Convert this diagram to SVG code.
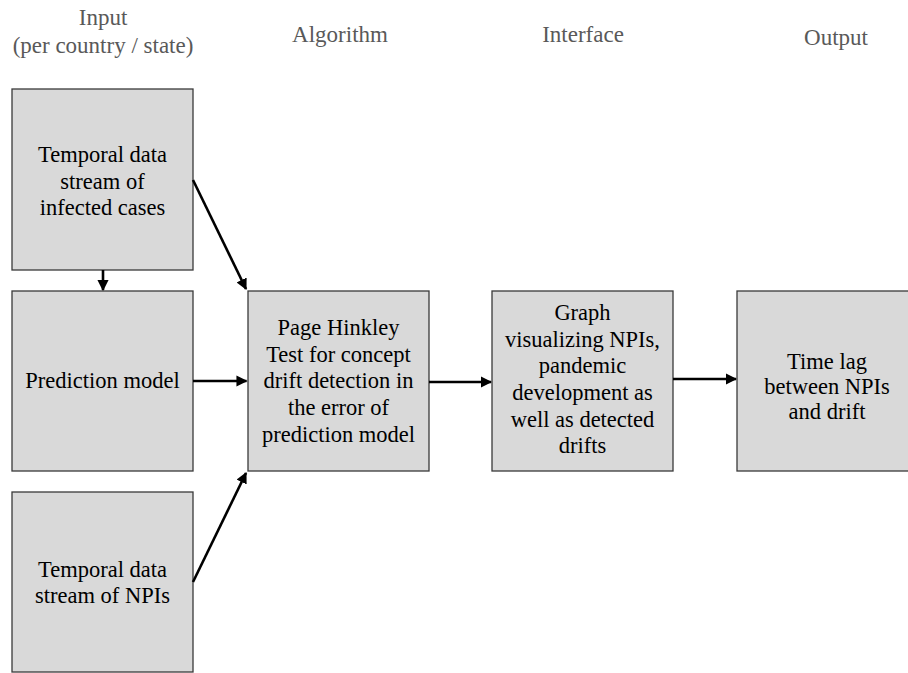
<svg xmlns="http://www.w3.org/2000/svg" width="908" height="673" viewBox="0 0 908 673">
<style>
.hdr{font-size:23px;fill:#595959;text-anchor:middle}
.box{fill:#d9d9d9;stroke:#3a3a3a;stroke-width:1.3}
.lbl{font-size:22.5px;fill:#000;text-anchor:middle}
.con{stroke:#000;stroke-width:2.6;fill:none;marker-end:url(#ah)}
</style>
<defs>
<marker id="ah" viewBox="0 0 10 10" refX="9" refY="5" markerWidth="4.3" markerHeight="4.3" orient="auto" markerUnits="strokeWidth">
<path d="M0,0 L10,5 L0,10 z" fill="#000"/>
</marker>
</defs>
<g id="headers" font-family="'Liberation Serif', 'Times New Roman', serif">
<text class="hdr" x="103" y="25">Input</text>
<text class="hdr" x="103" y="53">(per country / state)</text>
<text class="hdr" x="340" y="42">Algorithm</text>
<text class="hdr" x="583" y="42">Interface</text>
<text class="hdr" x="836" y="45">Output</text>
</g>
<g id="nodes" font-family="'Liberation Serif', 'Times New Roman', serif">
<g id="infected">
<rect class="box" x="12" y="89" width="181" height="181"/>
<text class="lbl" x="102.5" y="162">Temporal data</text>
<text class="lbl" x="102.5" y="188.5">stream of</text>
<text class="lbl" x="102.5" y="215">infected cases</text>
</g>
<g id="prediction">
<rect class="box" x="12" y="291" width="181" height="180"/>
<text class="lbl" x="102.5" y="388">Prediction model</text>
</g>
<g id="npis">
<rect class="box" x="12" y="492" width="181" height="180"/>
<text class="lbl" x="102.5" y="577">Temporal data</text>
<text class="lbl" x="102.5" y="603">stream of NPIs</text>
</g>
<g id="pagehinkley">
<rect class="box" x="248" y="291" width="181" height="180"/>
<text class="lbl" x="338.5" y="335">Page Hinkley</text>
<text class="lbl" x="338.5" y="362">Test for concept</text>
<text class="lbl" x="338.5" y="388">drift detection in</text>
<text class="lbl" x="338.5" y="415">the error of</text>
<text class="lbl" x="338.5" y="442">prediction model</text>
</g>
<g id="graph">
<rect class="box" x="492" y="291" width="181" height="180"/>
<text class="lbl" x="582.5" y="320">Graph</text>
<text class="lbl" x="582.5" y="347">visualizing NPIs,</text>
<text class="lbl" x="582.5" y="373">pandemic</text>
<text class="lbl" x="582.5" y="400">development as</text>
<text class="lbl" x="582.5" y="427">well as detected</text>
<text class="lbl" x="582.5" y="453">drifts</text>
</g>
<g id="output">
<rect class="box" x="737" y="291" width="181" height="180"/>
<text class="lbl" x="827" y="369">Time lag</text>
<text class="lbl" x="827" y="394">between NPIs</text>
<text class="lbl" x="827" y="419">and drift</text>
</g>
</g>
<g id="connectors">
<line class="con" x1="193" y1="180" x2="246" y2="289"/>
<line class="con" x1="103" y1="270" x2="103" y2="290"/>
<line class="con" x1="193" y1="381" x2="246.5" y2="381"/>
<line class="con" x1="193" y1="582" x2="246" y2="473"/>
<line class="con" x1="429" y1="382" x2="491" y2="382"/>
<line class="con" x1="673" y1="379" x2="736" y2="379"/>
</g>
</svg>
